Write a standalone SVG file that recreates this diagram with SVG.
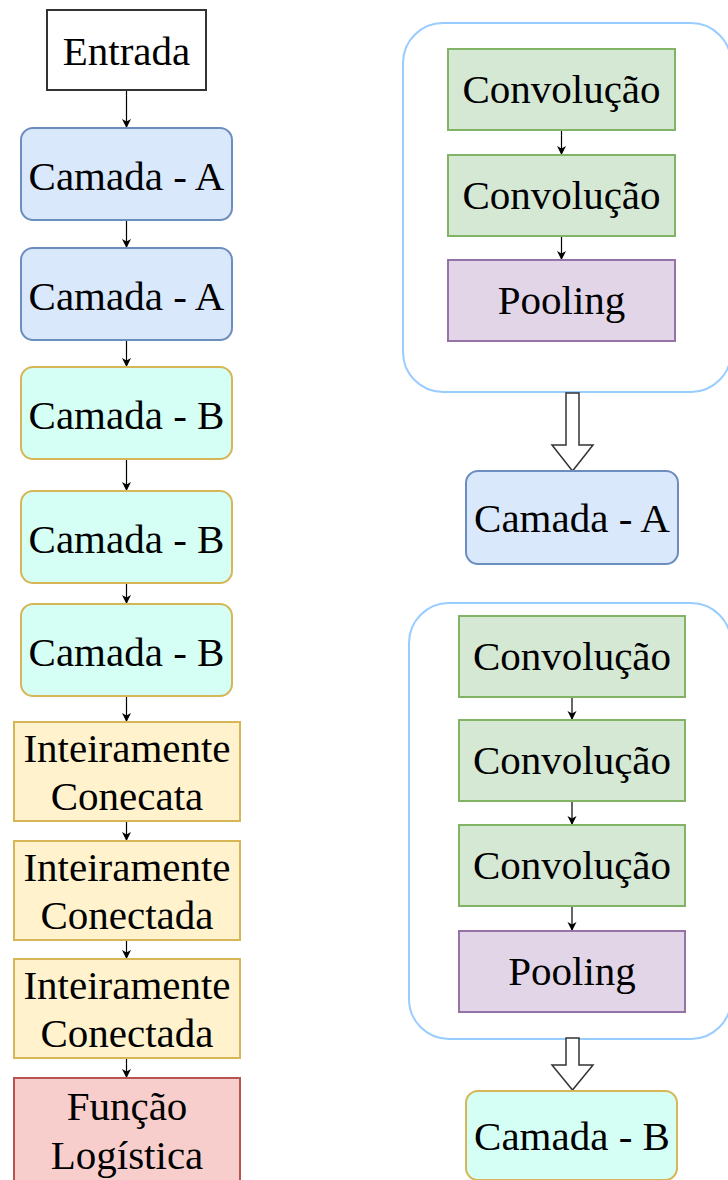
<svg xmlns="http://www.w3.org/2000/svg" width="728" height="1180" viewBox="0 0 728 1180">
<defs>
<style>
text{font-family:'Liberation Serif','Tinos','Times New Roman','DejaVu Serif',serif;font-size:41px;fill:#000;text-anchor:middle}
.n{stroke-width:2}
.ent{fill:#fff;stroke:#333}
.ca{fill:#dae8fc;stroke:#6c8ebf}
.cb{fill:#d5fff5;stroke:#d6b656}
.fc{fill:#fff2cc;stroke:#d6b656}
.fl{fill:#f8cecc;stroke:#b85450}
.cv{fill:#d5e8d4;stroke:#82b366}
.pl{fill:#e1d5e7;stroke:#9673a6}
.grp{fill:none;stroke:#99ccff;stroke-width:2}
.e{stroke:#000;stroke-width:1.2;fill:none;marker-end:url(#ah)}
.blk{fill:#fff;stroke:#333;stroke-width:1.5}
</style>
<marker id="ah" markerWidth="12" markerHeight="12" refX="10" refY="6" orient="auto" markerUnits="userSpaceOnUse">
<path d="M1,1.5 L10,6 L1,10.5 L3.5,6 z" fill="#000"/>
</marker>
</defs>

<g id="group1"><rect class="grp" x="403" y="23" width="328" height="369" rx="40"/></g>
<g id="group2"><rect class="grp" x="409" y="603" width="322" height="436" rx="40"/></g>

<g id="connectors">
<line class="e" x1="126.5" y1="90" x2="126.5" y2="128"/>
<line class="e" x1="126.5" y1="220" x2="126.5" y2="248"/>
<line class="e" x1="126.5" y1="340" x2="126.5" y2="367"/>
<line class="e" x1="126.5" y1="459" x2="126.5" y2="491"/>
<line class="e" x1="126.5" y1="583" x2="126.5" y2="604"/>
<line class="e" x1="126.5" y1="696" x2="126.5" y2="722"/>
<line class="e" x1="126.5" y1="821" x2="126.5" y2="841"/>
<line class="e" x1="126.5" y1="940" x2="126.5" y2="959"/>
<line class="e" x1="126.5" y1="1058" x2="126.5" y2="1078"/>
<line class="e" x1="561.5" y1="130" x2="561.5" y2="155"/>
<line class="e" x1="561.5" y1="236" x2="561.5" y2="260"/>
<line class="e" x1="572" y1="697" x2="572" y2="720"/>
<line class="e" x1="572" y1="801" x2="572" y2="825"/>
<line class="e" x1="572" y1="906" x2="572" y2="931"/>
<path class="blk" d="M566,393 L579,393 L579,445 L593,445 L572.5,471 L552,445 L566,445 Z"/>
<path class="blk" d="M566,1038 L579,1038 L579,1065 L593,1065 L572.5,1090 L552,1065 L566,1065 Z"/>
</g>

<g id="entrada"><rect class="n ent" x="47" y="10" width="159" height="80"/><text x="126.5" y="65">Entrada</text></g>
<g id="camadaA1"><rect class="n ca" x="21" y="128" width="211" height="92" rx="12"/><text x="126.5" y="190">Camada - A</text></g>
<g id="camadaA2"><rect class="n ca" x="21" y="248" width="211" height="92" rx="12"/><text x="126.5" y="310">Camada - A</text></g>
<g id="camadaB1"><rect class="n cb" x="21" y="367" width="211" height="92" rx="12"/><text x="126.5" y="429">Camada - B</text></g>
<g id="camadaB2"><rect class="n cb" x="21" y="491" width="211" height="92" rx="12"/><text x="126.5" y="553">Camada - B</text></g>
<g id="camadaB3"><rect class="n cb" x="21" y="604" width="211" height="92" rx="12"/><text x="126.5" y="666">Camada - B</text></g>
<g id="fc1"><rect class="n fc" x="14" y="722" width="226" height="99"/><text x="127" y="762">Inteiramente</text><text x="127" y="810">Conecata</text></g>
<g id="fc2"><rect class="n fc" x="14" y="841" width="226" height="99"/><text x="127" y="881">Inteiramente</text><text x="127" y="929">Conectada</text></g>
<g id="fc3"><rect class="n fc" x="14" y="959" width="226" height="99"/><text x="127" y="999">Inteiramente</text><text x="127" y="1047">Conectada</text></g>
<g id="logistica"><rect class="n fl" x="14" y="1078" width="226" height="110"/><text x="127" y="1120">Função</text><text x="127" y="1169">Logística</text></g>

<g id="conv1"><rect class="n cv" x="448" y="49" width="227" height="81"/><text x="561.5" y="103">Convolução</text></g>
<g id="conv2"><rect class="n cv" x="448" y="155" width="227" height="81"/><text x="561.5" y="209">Convolução</text></g>
<g id="pool1"><rect class="n pl" x="448" y="260" width="227" height="81"/><text x="561.5" y="314">Pooling</text></g>
<g id="camadaA3"><rect class="n ca" x="466" y="471" width="212" height="93" rx="12"/><text x="572" y="532">Camada - A</text></g>

<g id="conv3"><rect class="n cv" x="459" y="616" width="226" height="81"/><text x="572" y="670">Convolução</text></g>
<g id="conv4"><rect class="n cv" x="459" y="720" width="226" height="81"/><text x="572" y="774">Convolução</text></g>
<g id="conv5"><rect class="n cv" x="459" y="825" width="226" height="81"/><text x="572" y="879">Convolução</text></g>
<g id="pool2"><rect class="n pl" x="459" y="931" width="226" height="81"/><text x="572" y="985">Pooling</text></g>
<g id="camadaB4"><rect class="n cb" x="466" y="1091" width="211" height="89" rx="12"/><text x="572" y="1150">Camada - B</text></g>
</svg>
